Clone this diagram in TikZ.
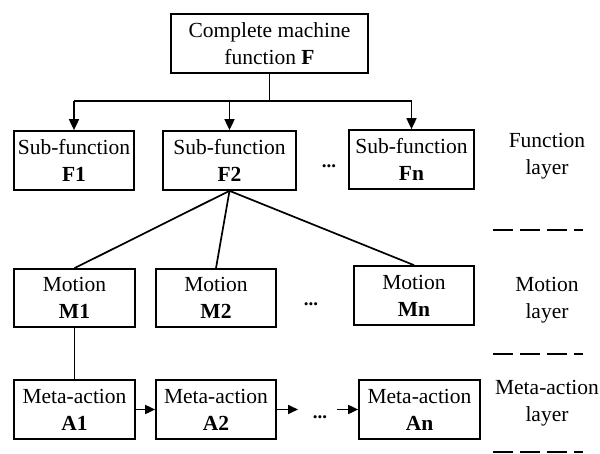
\documentclass[tikz,border=0pt]{standalone}
\usepackage{fontspec}
\setmainfont{Liberation Serif}
\usetikzlibrary{arrows.meta}
\begin{document}
\begin{tikzpicture}[x=1pt,y=-1pt,
  box/.style={draw,line width=1.7pt,rectangle,align=center,inner sep=0pt,
    font=\fontsize{21.5}{27}\selectfont},
  lbl/.style={align=center,inner sep=0pt,font=\fontsize{21.5}{27}\selectfont},
  dotsnode/.style={anchor=base,inner sep=0pt,font=\fontsize{19}{20}\selectfont\bfseries},
  conn/.style={line width=1.7pt},
  arr/.style={line width=1.7pt,-{Triangle[length=11pt,width=10pt]}},
  sarr/.style={line width=1.7pt,-{Triangle[length=10pt,width=9pt]}},
  sep/.style={line width=1.8pt,dash pattern=on 20pt off 7pt}]
\useasboundingbox (0,0) rectangle (600,454);
% top
\node[box,minimum width=197pt,minimum height=59pt] (top) at (269.5,43.5) {Complete machine\\function \textbf{F}};
% function layer
\node[box,minimum width=120pt,minimum height=59pt] (f1) at (74,160.5) {Sub-function\\\textbf{F1}};
\node[box,minimum width=133pt,minimum height=59pt] (f2) at (229.5,160.5) {Sub-function\\\textbf{F2}};
\node[box,minimum width=125pt,minimum height=59pt] (fn) at (411.5,159.5) {Sub-function\\\textbf{Fn}};
\node[dotsnode] (fd) at (329,168) {...};
% motion layer
\node[box,minimum width=121pt,minimum height=58pt] (m1) at (74.5,298) {Motion\\\textbf{M1}};
\node[box,minimum width=120pt,minimum height=58pt] (m2) at (216,298) {Motion\\\textbf{M2}};
\node[box,minimum width=120pt,minimum height=59pt] (mn) at (414,295.5) {Motion\\\textbf{Mn}};
\node[dotsnode] (md) at (311,306) {...};
% meta-action layer
\node[box,minimum width=121pt,minimum height=59pt] (a1) at (74.5,409.5) {Meta-action\\\textbf{A1}};
\node[box,minimum width=120pt,minimum height=59pt] (a2) at (216,409.5) {Meta-action\\\textbf{A2}};
\node[box,minimum width=121pt,minimum height=59pt] (an) at (419.5,409.5) {Meta-action\\\textbf{An}};
\node[dotsnode] (ad) at (320,418) {...};
% layer labels
\node[lbl] (lf) at (547,156) {Function\\layer};
\node[lbl] (lm) at (547,300.5) {Motion\\layer};
\node[lbl] (la) at (547,403.5) {Meta-action\\layer};
% separators
\coordinate (s1a) at (493,230); \coordinate (s1b) at (583,230);
\coordinate (s2a) at (493,354); \coordinate (s2b) at (583,354);
\coordinate (s3a) at (493,452); \coordinate (s3b) at (583,452);
\draw[sep] (s1a) -- (s1b);
\draw[sep] (s2a) -- (s2b);
\draw[sep] (s3a) -- (s3b);
% top connectors
\coordinate (j) at (269.5,101);
\draw[conn] (top.south) -- (j);
\draw[conn] (f1.north |- j) -- (fn.north |- j);
\draw[arr] (f1.north |- j) -- (f1.north);
\draw[arr] (f2.north |- j) -- (f2.north);
\draw[arr] (fn.north |- j) -- (fn.north);
% F2 to motions
\draw[conn] (f2.south) -- (m1.north);
\draw[conn] (f2.south) -- (m2.north);
\draw[conn] (f2.south) -- (mn.north);
% M1 to A1
\draw[conn] (m1.south) -- (a1.north);
% action arrows
\coordinate (a2e) at (298,409.5);
\coordinate (ans) at (337,409.5);
\draw[sarr] (a1.east) -- (a2.west);
\draw[sarr] (a2.east) -- (a2e);
\draw[sarr] (ans) -- (an.west);
\end{tikzpicture}
\end{document}
